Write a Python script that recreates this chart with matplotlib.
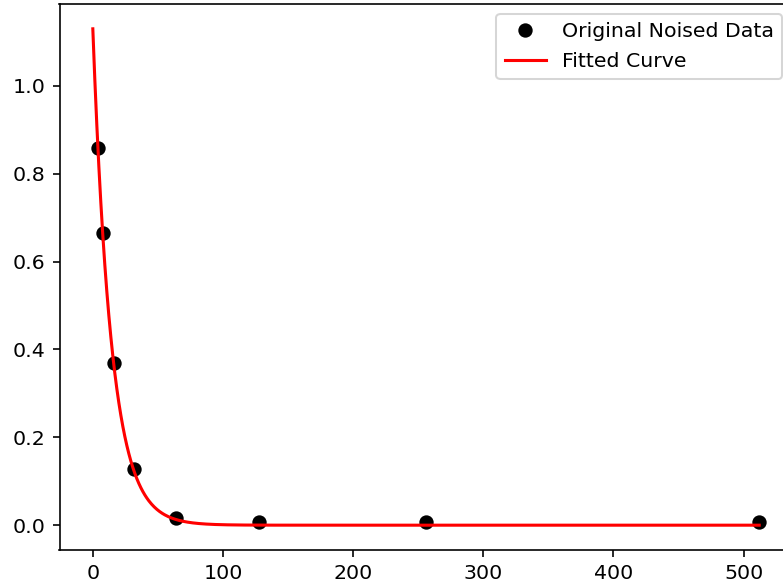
import numpy as np
import matplotlib
matplotlib.use("Agg")
import matplotlib.pyplot as plt

x_data = [4, 8, 16, 32, 64, 128, 256, 512]
y_data = [0.858, 0.666, 0.369, 0.129, 0.017, 0.007, 0.007, 0.007]

# fitted model parameters: y = a * exp(-b * x) + c
fit_a = 1.13
fit_b = 0.0700
fit_c = 0.0

DPI = 147.6
fig = plt.figure(figsize=(783 / DPI, 586 / DPI), dpi=DPI)
ax = fig.add_axes([59.5 / 783, 36 / 586, 733 / 783, 546 / 586])

x_fit = np.linspace(0, 512, 1000)
y_fit = fit_a * np.exp(-fit_b * x_fit) + fit_c

ax.plot(x_data, y_data, 'ko', label='Original Noised Data')
ax.plot(x_fit, y_fit, 'r-', label='Fitted Curve')
ax.legend(loc='upper right')

fig.savefig('out.png', dpi=DPI)
